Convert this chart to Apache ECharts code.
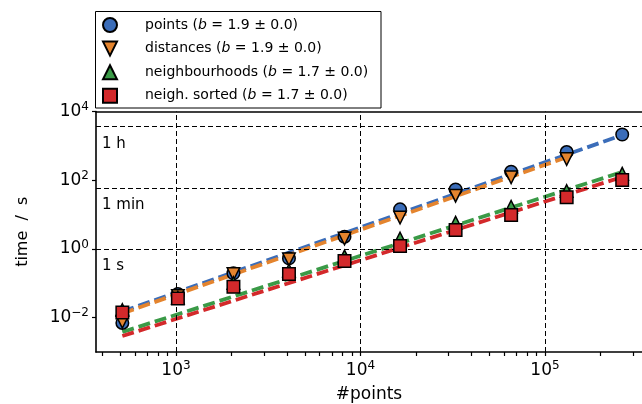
<!DOCTYPE html>
<html>
<head>
<meta charset="utf-8">
<script src="https://cdn.jsdelivr.net/npm/echarts@6/dist/echarts.min.js"></script>
<style>html,body{margin:0;padding:0;background:#fff;}#c{width:642px;height:404px;}</style>
</head>
<body>
<div id="c"></div>
<script>
// ---- data ----
const nPoints = [512, 1024, 2048, 4096, 8192, 16384, 32768, 65536, 131072, 262144];
const tPoints = [0.0070, 0.049, 0.195, 0.53, 2.27, 14.2, 54, 177, 660, 2140];
const tDistances = [0.0076, 0.043, 0.186, 0.50, 2.01, 8.2, 35.4, 121, 414];
const tNeighbourhoods = [0.0167, 0.038, 0.102, 0.236, 0.61, 2.01, 5.8, 16.9, 48.5, 155];
const tNeighSorted = [0.0141, 0.036, 0.079, 0.186, 0.445, 1.22, 3.56, 9.7, 31.8, 101];
// fitted power laws (end points)
const fitPointsN = [512, 262144], fitPointsT = [0.0151, 2069];
const fitDistN = [512, 131072], fitDistT = [0.01327, 467];
const fitNbN = [512, 262144], fitNbT = [0.00382, 173];
const fitSortN = [512, 262144], fitSortT = [0.00292, 124];
const seriesNames = ['points', 'distances', 'neighbourhoods', 'neigh. sorted'];
const exponents = ['1.9', '1.9', '1.7', '1.7'];
const xMajorTicks = [1e3, 1e4, 1e5];
const xMinorTicks = [400,500,600,700,800,900,2000,3000,4000,5000,6000,7000,8000,9000,
  20000,30000,40000,50000,60000,70000,80000,90000,200000,300000];
const yTicks = [1e-2, 1, 1e2, 1e4];
const timeMarks = [1, 60, 3600];
const timeMarkLabels = ['1 s', '1 min', '1 h'];

const colors = ['#3b6db9', '#e4842e', '#3a9a47', '#d3292b'];
const FONT = 'DejaVu Sans';
const zip = (a, b) => a.map((v, i) => [v, b[i]]);
const downTri = 'path://M0,0L2,0L1,2Z';

function powLabel(v) {
  const e = Math.round(Math.log10(v));
  return '{a|10}{b|' + (e < 0 ? '\u2212' + (-e) : e) + '}';
}
const powRich = {
  a: {fontSize: 17, fontFamily: FONT, color: '#000'},
  b: {fontSize: 12, fontFamily: FONT, color: '#000', padding: [0, 0, 9, 0]}
};

const chart = echarts.init(document.getElementById('c'), null, {renderer: 'canvas'});
const fitLine = (name, n, t, c, z) => ({
  name: name + ' fit', type: 'line', data: zip(n, t), symbol: 'none', z: z, silent: true,
  lineStyle: {color: c, width: 3.8, type: [12, 5]}
});
const scatter = (name, t, sym, c, z) => ({
  name: name, type: 'scatter', data: zip(nPoints.slice(0, t.length), t),
  symbol: sym, symbolSize: 12.5, z: z,
  itemStyle: {color: c, borderColor: '#000', borderWidth: 1.5, opacity: 1}
});

const markData = xMajorTicks.map(v => ({xAxis: v, label: {show: false}}))
  .concat(timeMarks.map((v, i) => ({yAxis: v, name: timeMarkLabels[i]})));

chart.setOption({
  animation: false,
  backgroundColor: '#fff',
  grid: {left: 96, right: 0, top: 111.5, bottom: 52, containLabel: false, outerBoundsMode: 'none'},
  graphic: [{
    type: 'rect', z: 0,
    shape: {x: 95.5, y: 11.5, width: 285.5, height: 96.5},
    style: {fill: '#fff', stroke: '#000', lineWidth: 1}
  }],
  legend: {
    data: seriesNames.map((n, i) => ({name: n, icon: ['circle', downTri, 'triangle', 'rect'][i]})),
    orient: 'vertical', left: 97, top: 12, itemWidth: 14, itemHeight: 14, itemGap: 7.6, z: 10,
    selectedMode: false,
    formatter: name => name + ' ({i|b} = ' + exponents[seriesNames.indexOf(name)] + ' \u00b1 0.0)',
    textStyle: {
      fontSize: 14, fontFamily: FONT, color: '#000', padding: [0, 0, 0, 23],
      rich: {i: {fontStyle: 'italic', fontSize: 14, fontFamily: FONT, color: '#000'}}
    }
  },
  xAxis: [{
    type: 'log', logBase: 10, min: 368.5, max: 335600,
    name: '#points', nameLocation: 'middle', nameGap: 34,
    nameTextStyle: {fontSize: 17, fontFamily: FONT, color: '#000'},
    axisLine: {show: true, onZero: false, lineStyle: {color: '#000', width: 1.6}},
    axisTick: {show: true, length: 4, customValues: xMinorTicks.concat(xMajorTicks), lineStyle: {color: '#000', width: 1.2}},
    axisLabel: {customValues: xMajorTicks, formatter: powLabel, rich: powRich, margin: 8},
    splitLine: {show: false}, minorTick: {show: false}
  }, {
    type: 'log', logBase: 10, min: 368.5, max: 335600, position: 'top',
    axisLine: {show: true, onZero: false, lineStyle: {color: '#000', width: 1.6}},
    axisTick: {show: false}, axisLabel: {show: false}, splitLine: {show: false}
  }],
  yAxis: {
    type: 'log', logBase: 10, min: 1e-3, max: 1e4,
    name: 'time  /  s', nameLocation: 'middle', nameGap: 65,
    nameTextStyle: {fontSize: 16, fontFamily: FONT, color: '#000'},
    axisLine: {show: true, onZero: false, lineStyle: {color: '#000', width: 1.6}},
    axisTick: {show: true, length: 4, customValues: yTicks, lineStyle: {color: '#000', width: 1.2}},
    axisLabel: {customValues: yTicks, formatter: powLabel, rich: powRich, margin: 7},
    splitLine: {show: false}
  },
  series: [
    {
      name: 'grid', type: 'line', data: [], z: 1, silent: true,
      markLine: {
        silent: true, symbol: ['none', 'none'], animation: false,
        lineStyle: {color: '#000', width: 1, type: [5, 3]},
        label: {show: true, position: 'insideStartBottom', formatter: '{b}', fontSize: 15,
          fontFamily: FONT, color: '#000', distance: [6, 10]},
        emphasis: {disabled: true},
        data: markData
      }
    },
    fitLine('points', fitPointsN, fitPointsT, colors[0], 3),
    fitLine('distances', fitDistN, fitDistT, colors[1], 3),
    fitLine('neighbourhoods', fitNbN, fitNbT, colors[2], 3),
    fitLine('neigh. sorted', fitSortN, fitSortT, colors[3], 3),
    scatter('points', tPoints, 'circle', colors[0], 5),
    scatter('distances', tDistances, downTri, colors[1], 6),
    scatter('neighbourhoods', tNeighbourhoods, 'triangle', colors[2], 7),
    scatter('neigh. sorted', tNeighSorted, 'rect', colors[3], 8)
  ]
});
</script>
</body>
</html>
